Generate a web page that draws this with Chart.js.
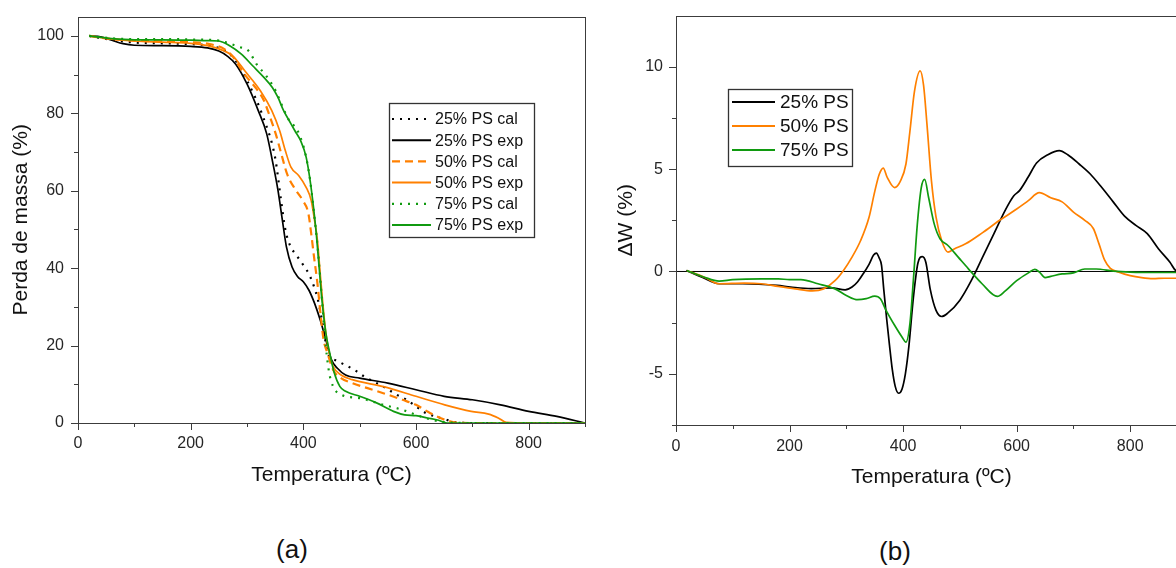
<!DOCTYPE html>
<html>
<head>
<meta charset="utf-8">
<script src="https://cdn.jsdelivr.net/npm/chart.js"></script>
<style>
  html, body { margin: 0; padding: 0; background: #fff; }
  body { width: 1176px; height: 568px; overflow: hidden; position: relative; font-family: Arial, "Liberation Sans", sans-serif; }
  canvas { position: absolute; top: 0; }
  #chartA { left: 0; }
  #chartB { left: 600px; }
  .panel { position: absolute; font-size: 26px; color: #111; transform: translate(-50%, -50%); }
</style>
</head>
<body>
<canvas id="chartA" width="600" height="500"></canvas>
<canvas id="chartB" width="600" height="500"></canvas>
<div class="panel" style="left:292px; top:549px;">(a)</div>
<div class="panel" style="left:895px; top:551px;">(b)</div>
<script>
// ---- (a) perda de massa (%) vs temperatura ----
var ps25CalT = [20, 60, 100, 150, 200, 240, 260, 275, 300, 330, 350, 360, 368, 376, 388, 400, 411, 419, 426, 433, 440, 446, 456, 474, 491, 508, 542, 566, 583, 600, 617, 634, 651, 668, 700, 800, 900];
var ps25CalW = [100, 99, 98.3, 98.1, 97.9, 97.3, 96.2, 94.5, 88.5, 78.5, 68.5, 58, 50, 46, 43.3, 40.8, 38.2, 35.2, 31.8, 26.6, 20.6, 17.2, 16.3, 15, 13.7, 12, 9.4, 7.3, 6.0, 4.3, 2.6, 1.7, 1.0, 0.2, 0, 0, 0];
var ps25ExpT = [20, 40, 60, 80, 100, 150, 200, 230, 250, 265, 280, 300, 320, 335, 345, 355, 362, 370, 380, 390, 400, 410, 420, 430, 440, 450, 460, 475, 500, 550, 600, 650, 700, 750, 800, 850, 900];
var ps25ExpW = [100, 99.8, 98.9, 98, 97.6, 97.5, 97.3, 96.9, 96.1, 94.8, 92.7, 87.6, 80.7, 74.7, 67.8, 60.1, 53.2, 45.5, 40.3, 37.8, 36.5, 34.3, 30.9, 26.6, 21.5, 16.3, 14.2, 12.4, 11.6, 10.3, 8.6, 6.9, 6.0, 4.7, 3.0, 1.7, 0];
var ps50CalT = [20, 60, 100, 150, 200, 230, 260, 275, 296, 317, 330, 341, 351, 361, 371, 385, 399, 409, 414, 419, 425, 431, 436, 443, 453, 467, 487, 514, 542, 576, 600, 620, 637, 654, 668, 700, 900];
var ps50CalW = [100, 99.2, 98.8, 98.6, 98.4, 98, 96.6, 94.6, 90, 86.3, 83.3, 79, 74.7, 69.5, 64.4, 60.5, 57.5, 54.1, 48.9, 42.9, 36.1, 27.5, 21.5, 18, 13.7, 11.6, 10.3, 9.0, 7.7, 6.0, 4.7, 3.0, 1.7, 0.7, 0.2, 0, 0];
var ps50ExpT = [20, 60, 100, 150, 200, 230, 260, 275, 296, 324, 344, 358, 368, 378, 392, 405, 414, 419, 425, 429, 434, 440, 446, 453, 467, 487, 542, 600, 651, 698, 729, 746, 760, 800, 900];
var ps50ExpW = [100, 99.2, 98.7, 98.4, 98.1, 97.5, 96.1, 94.8, 91, 85.8, 80.7, 75.5, 70.4, 66.1, 63.9, 60.9, 57.5, 53.2, 47.2, 40.3, 31.8, 23.2, 18, 14.6, 12.4, 11.2, 9.4, 6.9, 4.7, 3.0, 2.3, 1.3, 0.2, 0, 0];
var ps75CalT = [20, 60, 100, 150, 200, 230, 250, 270, 285, 303, 317, 334, 351, 361, 375, 388, 399, 405, 412, 418, 425, 433, 440, 446, 453, 467, 501, 542, 576, 600, 624, 651, 700, 900];
var ps75CalW = [100, 99.4, 99.2, 99.2, 99.1, 99, 98.8, 98, 97.2, 96.1, 92.7, 89.7, 85.8, 82.4, 78.1, 76, 72.1, 68.7, 62.7, 55.5, 46, 32, 19.7, 12.9, 9.4, 7.3, 6.4, 4.7, 3.4, 2.1, 1.0, 0.2, 0, 0];
var ps75ExpT = [20, 60, 100, 150, 200, 230, 250, 270, 290, 310, 330, 345, 355, 365, 375, 385, 395, 405, 412, 418, 423, 428, 433, 440, 447, 455, 465, 475, 500, 530, 560, 580, 600, 620, 640, 655, 700, 900];
var ps75ExpW = [100, 99.3, 99, 99, 98.9, 98.8, 98.7, 97.4, 95.3, 92.3, 89.3, 86.7, 84.1, 80.7, 78.1, 75.5, 73, 68.7, 62.7, 55.8, 48.9, 40.3, 31.8, 23.2, 18, 12.9, 9.4, 8.2, 6.9, 5.2, 3.0, 2.1, 1.9, 1.3, 0.7, 0, 0, 0];

// ---- (b) delta W (%) vs temperatura ----
var dw25T = [18, 46, 76, 118, 178, 202, 238, 274, 298, 310, 320, 330, 340, 348, 353, 358, 362, 366, 371, 376, 381, 386, 392, 398, 404, 410, 418, 426, 434, 440, 448, 458, 468, 478, 500, 520, 540, 560, 580, 595, 605, 620, 635, 655, 675, 690, 710, 730, 750, 770, 790, 810, 830, 850, 870, 880, 900];
var dw25V = [0.05, -0.28, -0.6, -0.6, -0.68, -0.76, -0.84, -0.8, -0.9, -0.76, -0.5, -0.1, 0.35, 0.8, 0.9, 0.65, 0.3, -0.9, -2.3, -3.6, -4.8, -5.6, -5.95, -5.75, -5.0, -3.7, -1.3, 0.4, 0.73, 0.45, -0.9, -1.9, -2.2, -2.05, -1.4, -0.45, 0.7, 1.85, 3.0, 3.7, 3.95, 4.6, 5.3, 5.7, 5.9, 5.7, 5.25, 4.75, 4.1, 3.4, 2.7, 2.25, 1.85, 1.1, 0.45, 0.05, -0.1];
var dw50T = [19, 50, 76, 120, 150, 180, 210, 240, 260, 280, 295, 310, 325, 340, 350, 358, 365, 372, 385, 395, 405, 412, 420, 430, 436, 442, 450, 458, 468, 479, 490, 510, 540, 570, 600, 620, 640, 660, 680, 700, 720, 735, 745, 755, 765, 780, 800, 820, 840, 860, 900];
var dw50V = [0.05, -0.28, -0.6, -0.57, -0.6, -0.73, -0.85, -0.95, -0.85, -0.45, 0.05, 0.7, 1.5, 2.65, 3.9, 4.75, 5.05, 4.6, 4.1, 4.4, 5.25, 6.85, 8.8, 9.8, 9.1, 7.2, 4.4, 2.65, 1.5, 0.95, 1.1, 1.35, 1.9, 2.5, 3.05, 3.45, 3.85, 3.6, 3.4, 2.9, 2.5, 2.1, 1.35, 0.55, 0.15, -0.03, -0.2, -0.3, -0.35, -0.33, -0.33];
var dw75T = [19, 50, 76, 100, 150, 180, 200, 220, 250, 280, 300, 320, 335, 350, 360, 370, 385, 398, 405, 412, 418, 425, 432, 438, 445, 455, 465, 479, 497, 515, 539, 566, 580, 600, 620, 632, 640, 650, 660, 680, 700, 720, 740, 770, 800, 850, 900];
var dw75V = [0.05, -0.28, -0.47, -0.4, -0.36, -0.36, -0.4, -0.4, -0.6, -0.85, -1.17, -1.38, -1.33, -1.2, -1.33, -1.9, -2.63, -3.2, -3.45, -2.55, -0.45, 2.3, 4.1, 4.5, 3.6, 2.3, 1.6, 1.27, 0.7, 0.13, -0.6, -1.22, -0.95, -0.45, -0.08, 0.1, -0.03, -0.3, -0.24, -0.12, -0.07, 0.12, 0.12, 0.02, -0.03, -0.05, -0.05];
var zeroT = [0, 900];
var zeroV = [0, 0];

var BLACK = '#000000';
var ORANGE = '#ff8000';
var GREEN = '#109a10';
var FONT = 'Arial, "Liberation Sans", sans-serif';

function pts(xs, ys) {
    return xs.map(function (x, i) { return { x: x, y: ys[i] }; });
}

function line(label, xs, ys, color, dash, order) {
    return {
        label: label,
        data: pts(xs, ys),
        borderColor: color,
        backgroundColor: color,
        borderWidth: dash.length ? 2.2 : 1.7,
        borderDash: dash,
        pointRadius: 0,
        fill: false,
        cubicInterpolationMode: 'monotone',
        order: order
    };
}

// frame, tick marks (major/minor) and legend box
const framePlugin = {
    id: 'frame',
    afterDraw(chart, args, opts) {
        const ctx = chart.ctx;
        const a = chart.chartArea;
        ctx.save();
        ctx.strokeStyle = '#3c3c3c';
        ctx.lineWidth = 1;
        ctx.strokeRect(Math.round(a.left) + 0.5, Math.round(a.top) + 0.5,
            Math.round(a.right - a.left), Math.round(a.bottom - a.top));

        const xs = chart.scales.x, ys = chart.scales.y;
        ctx.beginPath();
        xs.ticks.forEach(function (t) {
            if (t.value % opts.xStep !== 0) return;
            const len = (t.value % opts.xMajor === 0) ? 7 : 4;
            const px = Math.round(xs.getPixelForValue(t.value)) + 0.5;
            ctx.moveTo(px, a.bottom);
            ctx.lineTo(px, a.bottom + len);
        });
        ys.ticks.forEach(function (t) {
            if (Math.abs(t.value / opts.yStep - Math.round(t.value / opts.yStep)) > 1e-6) return;
            if (t.value >= ys.max) return;
            const r = t.value / opts.yMajor;
            const len = Math.abs(r - Math.round(r)) < 1e-6 ? 7 : 4;
            const py = Math.round(ys.getPixelForValue(t.value)) + 0.5;
            ctx.moveTo(a.left, py);
            ctx.lineTo(a.left - len, py);
        });
        ctx.stroke();

        // legend
        const L = opts.legend;
        ctx.fillStyle = '#fff';
        ctx.fillRect(L.x, L.y, L.w, L.h);
        ctx.strokeStyle = '#333';
        ctx.lineWidth = 1.3;
        ctx.strokeRect(L.x + 0.5, L.y + 0.5, L.w, L.h);
        ctx.font = L.font + 'px ' + FONT;
        ctx.textBaseline = 'middle';
        ctx.textAlign = 'left';
        let row = 0;
        chart.data.datasets.forEach(function (ds) {
            if (!ds.label) return;
            const yy = L.y + L.first + row * L.rowH;
            ctx.beginPath();
            ctx.strokeStyle = ds.borderColor;
            ctx.lineWidth = ds.borderDash.length ? 2.2 : 2;
            ctx.setLineDash(ds.borderDash);
            ctx.moveTo(L.x + L.l0, yy);
            ctx.lineTo(L.x + L.l1, yy);
            ctx.stroke();
            ctx.setLineDash([]);
            ctx.fillStyle = '#111';
            ctx.fillText(ds.label, L.x + L.tx, yy + 1);
            row++;
        });
        ctx.restore();
    }
};

function axis(min, max, step, major, title, titlePad, tickPad, fit) {
    return {
        type: 'linear',
        min: min,
        max: max,
        border: { display: false },
        grid: { display: true, drawOnChartArea: false, drawTicks: true, tickLength: 7, tickColor: 'rgba(0,0,0,0)' },
        ticks: {
            stepSize: step,
            autoSkip: false,
            maxRotation: 0,
            padding: tickPad,
            color: '#262626',
            font: { family: FONT, size: 16 },
            callback: function (v) {
                const r = v / major;
                return Math.abs(r - Math.round(r)) < 1e-6 ? String(v) : '';
            }
        },
        title: {
            display: true,
            text: title,
            color: '#111',
            padding: titlePad,
            font: { family: FONT, size: 21 }
        },
        afterFit: fit
    };
}

const chartA = new Chart(document.getElementById('chartA'), {
    type: 'line',
    data: {
        datasets: [
            line('25% PS cal', ps25CalT, ps25CalW, BLACK, [2, 6], 6),
            line('25% PS exp', ps25ExpT, ps25ExpW, BLACK, [], 5),
            line('50% PS cal', ps50CalT, ps50CalW, ORANGE, [8, 5], 4),
            line('50% PS exp', ps50ExpT, ps50ExpW, ORANGE, [], 3),
            line('75% PS cal', ps75CalT, ps75CalW, GREEN, [2, 6], 2),
            line('75% PS exp', ps75ExpT, ps75ExpW, GREEN, [], 1)
        ]
    },
    options: {
        responsive: false,
        animation: false,
        layout: { padding: { top: 15, right: 15, bottom: 0, left: 0 } },
        plugins: {
            legend: { display: false },
            tooltip: { enabled: false },
            frame: {
                xStep: 100, xMajor: 200, yStep: 10, yMajor: 20,
                legend: { x: 389, y: 103, w: 145, h: 134, first: 16, rowH: 21.2, l0: 3, l1: 42, tx: 46, font: 16 }
            }
        },
        scales: {
            x: axis(0, 900, 100, 200, 'Temperatura (ºC)', { top: 0, bottom: 12 }, 4,
                function (s) { s.height = 77; }),
            y: axis(0, 105, 10, 20, 'Perda de massa (%)', { top: 9, bottom: 0 }, 7,
                function (s) { s.width = 78; })
        }
    },
    plugins: [framePlugin]
});

const zeroLine = line('', zeroT, zeroV, BLACK, [], 9);
zeroLine.borderWidth = 1;

const chartB = new Chart(document.getElementById('chartB'), {
    type: 'line',
    data: {
        datasets: [
            line('25% PS', dw25T, dw25V, BLACK, [], 3),
            line('50% PS', dw50T, dw50V, ORANGE, [], 2),
            line('75% PS', dw75T, dw75V, GREEN, [], 1),
            zeroLine
        ]
    },
    options: {
        responsive: false,
        animation: false,
        layout: { padding: { top: 14, right: 13, bottom: 0, left: 0 } },
        plugins: {
            legend: { display: false },
            tooltip: { enabled: false },
            frame: {
                xStep: 100, xMajor: 200, yStep: 2.5, yMajor: 5,
                legend: { x: 128, y: 89, w: 124, h: 77, first: 13, rowH: 24, l0: 4, l1: 47, tx: 52, font: 19 }
            }
        },
        scales: {
            x: axis(0, 900, 100, 200, 'Temperatura (ºC)', { top: 0, bottom: 10 }, 5,
                function (s) { s.height = 75; }),
            y: axis(-7.5, 12.5, 2.5, 5, 'ΔW (%)', { top: 14, bottom: 0 }, 6,
                function (s) { s.width = 76; })
        }
    },
    plugins: [framePlugin]
});
</script>
</body>
</html>
